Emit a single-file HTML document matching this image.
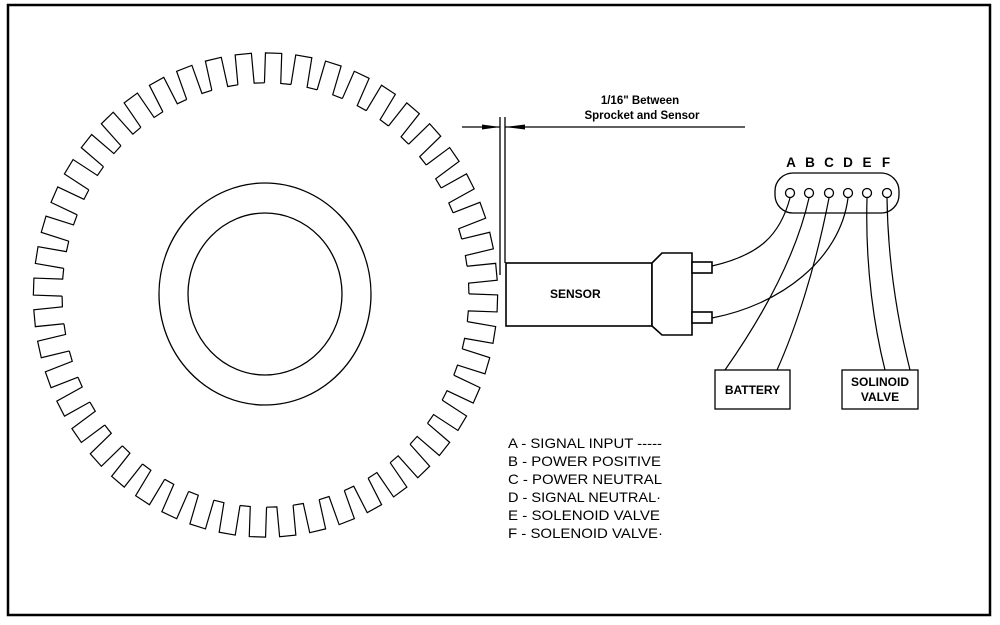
<!DOCTYPE html>
<html><head><meta charset="utf-8"><style>
html,body{margin:0;padding:0;background:#fff;}
svg{display:block;}
text{font-family:"Liberation Sans",Arial,sans-serif;fill:#000;}
</style></head><body>
<svg width="1000" height="625" viewBox="0 0 1000 625" xmlns="http://www.w3.org/2000/svg">
<rect x="8" y="5" width="982" height="610" fill="none" stroke="#000" stroke-width="2.5"/>
<defs>
<path id="t" d="M -8.5 -212 L -8.5 -242 L 8.5 -242 L 8.5 -212 L 19.24 -211.3" fill="none" stroke="#000" stroke-width="1.2" vector-effect="non-scaling-stroke"/>
</defs>
<g transform="translate(265.5,295) scale(0.9587,1)">
<use href="#t" transform="rotate(2)"/><use href="#t" transform="rotate(9.5)"/><use href="#t" transform="rotate(17)"/><use href="#t" transform="rotate(24.5)"/><use href="#t" transform="rotate(32)"/><use href="#t" transform="rotate(39.5)"/><use href="#t" transform="rotate(47)"/><use href="#t" transform="rotate(54.5)"/>
<use href="#t" transform="rotate(62)"/><use href="#t" transform="rotate(69.5)"/><use href="#t" transform="rotate(77)"/><use href="#t" transform="rotate(84.5)"/><use href="#t" transform="rotate(92)"/><use href="#t" transform="rotate(99.5)"/><use href="#t" transform="rotate(107)"/><use href="#t" transform="rotate(114.5)"/>
<use href="#t" transform="rotate(122)"/><use href="#t" transform="rotate(129.5)"/><use href="#t" transform="rotate(137)"/><use href="#t" transform="rotate(144.5)"/><use href="#t" transform="rotate(152)"/><use href="#t" transform="rotate(159.5)"/><use href="#t" transform="rotate(167)"/><use href="#t" transform="rotate(174.5)"/>
<use href="#t" transform="rotate(182)"/><use href="#t" transform="rotate(189.5)"/><use href="#t" transform="rotate(197)"/><use href="#t" transform="rotate(204.5)"/><use href="#t" transform="rotate(212)"/><use href="#t" transform="rotate(219.5)"/><use href="#t" transform="rotate(227)"/><use href="#t" transform="rotate(234.5)"/>
<use href="#t" transform="rotate(242)"/><use href="#t" transform="rotate(249.5)"/><use href="#t" transform="rotate(257)"/><use href="#t" transform="rotate(264.5)"/><use href="#t" transform="rotate(272)"/><use href="#t" transform="rotate(279.5)"/><use href="#t" transform="rotate(287)"/><use href="#t" transform="rotate(294.5)"/>
<use href="#t" transform="rotate(302)"/><use href="#t" transform="rotate(309.5)"/><use href="#t" transform="rotate(317)"/><use href="#t" transform="rotate(324.5)"/><use href="#t" transform="rotate(332)"/><use href="#t" transform="rotate(339.5)"/><use href="#t" transform="rotate(347)"/><use href="#t" transform="rotate(354.5)"/>
</g>
<ellipse cx="265" cy="294" rx="106" ry="111" fill="none" stroke="#000" stroke-width="1.3"/>
<ellipse cx="265" cy="294" rx="77" ry="81" fill="none" stroke="#000" stroke-width="1.3"/>

<!-- dimension -->
<g stroke="#000" fill="none" stroke-width="1.3">
<line x1="500" y1="117" x2="500" y2="275"/>
<line x1="505" y1="117" x2="505" y2="263"/>
<line x1="462" y1="127" x2="500" y2="127"/>
<line x1="505" y1="127" x2="745" y2="127"/>
</g>
<polygon points="500,127 482,124.5 482,129.5" fill="#000"/>
<polygon points="505,127 525,124.5 525,129.5" fill="#000"/>
<text x="640" y="104" font-size="11.5" font-weight="bold" text-anchor="middle">1/16" Between</text>
<text x="642" y="119" font-size="11.5" font-weight="bold" text-anchor="middle">Sprocket and Sensor</text>

<!-- sensor -->
<g stroke="#000" fill="#fff" stroke-width="1.6">
<rect x="506" y="263" width="146" height="63"/>
<polygon points="652,263 662,253 692,253 692,335 662,335 652,326"/>
<rect x="692" y="262" width="20" height="11"/>
<rect x="692" y="312" width="20" height="11"/>
</g>
<text x="550" y="298" font-size="12" font-weight="bold">SENSOR</text>

<!-- connector -->
<rect x="775" y="173" width="124" height="40" rx="18" fill="none" stroke="#000" stroke-width="1.3"/>
<g fill="none" stroke="#000" stroke-width="1.3">
<circle cx="790" cy="193" r="4.5"/><circle cx="809" cy="193" r="4.5"/><circle cx="829" cy="193" r="4.5"/>
<circle cx="848" cy="193" r="4.5"/><circle cx="867" cy="193" r="4.5"/><circle cx="887" cy="193" r="4.5"/>
</g>
<g font-size="13.5" font-weight="bold" text-anchor="middle">
<text x="791" y="167">A</text><text x="810" y="167">B</text><text x="829" y="167">C</text>
<text x="848" y="167">D</text><text x="867" y="167">E</text><text x="886" y="167">F</text>
</g>
<!-- wires -->
<g fill="none" stroke="#000" stroke-width="1.2">
<path d="M790 198 C 780 235, 760 255, 712 266"/>
<path d="M848 198 C 840 260, 780 305, 712 318"/>
<path d="M809 198 C 795 260, 760 320, 725 370"/>
<path d="M829 198 C 815 270, 795 330, 777 370"/>
<path d="M867 198 C 865 270, 875 330, 885 370"/>
<path d="M887 198 C 888 270, 900 330, 910 370"/>
</g>
<rect x="715" y="370" width="75" height="39" fill="none" stroke="#000" stroke-width="1.3"/>
<text x="752.5" y="394" font-size="12" font-weight="bold" text-anchor="middle">BATTERY</text>
<rect x="842" y="370" width="76" height="39" fill="none" stroke="#000" stroke-width="1.3"/>
<text x="880" y="386" font-size="12" font-weight="bold" text-anchor="middle">SOLINOID</text>
<text x="880" y="401" font-size="12" font-weight="bold" text-anchor="middle">VALVE</text>

<!-- legend -->
<g font-size="14">
<text x="508" y="448" textLength="154" lengthAdjust="spacingAndGlyphs">A - SIGNAL INPUT -----</text>
<text x="508" y="466" textLength="153" lengthAdjust="spacingAndGlyphs">B - POWER POSITIVE</text>
<text x="508" y="484" textLength="154" lengthAdjust="spacingAndGlyphs">C - POWER NEUTRAL</text>
<text x="508" y="502" textLength="153" lengthAdjust="spacingAndGlyphs">D - SIGNAL NEUTRAL·</text>
<text x="508" y="520" textLength="152" lengthAdjust="spacingAndGlyphs">E - SOLENOID VALVE</text>
<text x="508" y="538" textLength="155" lengthAdjust="spacingAndGlyphs">F - SOLENOID VALVE·</text>
</g>
</svg>
</body></html>
